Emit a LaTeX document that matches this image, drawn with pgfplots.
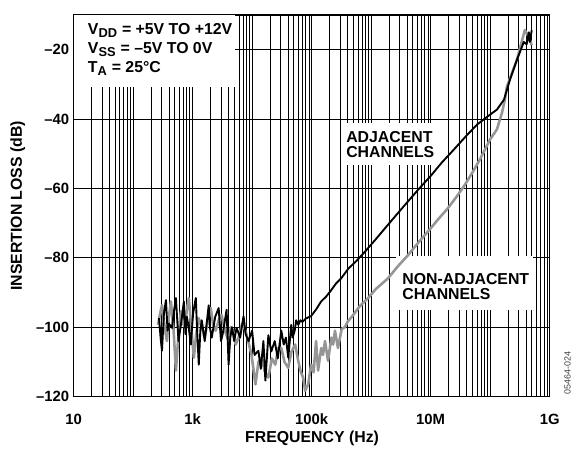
\documentclass[border=0pt]{standalone}
\usepackage{fontspec}
\setmainfont{Liberation Sans}
\usepackage{pgfplots}
\pgfplotsset{compat=1.18}

\definecolor{nonadj}{RGB}{150,150,150}

\pgfplotsset{
  layers/mylayers/.define layer set={axis background,axis grid,annot,main,axis ticks,axis lines,axis tick labels,axis descriptions,axis foreground}{},
}

\pgfplotstableread{
f      db
273    -97.4
290    -103
306    -106.8
330    -96
357    -92.2
380    -101
400    -99
450    -100.2
490    -95
525    -91.6
580    -104
636    -99.3
714    -92.6
760    -102
800    -97
860    -100
935    -105
1020   -96
1133   -91.6
1200   -102
1271   -110.8
1350   -101
1426   -98
1600   -104
1866   -93.7
1950   -100
2099   -103
2400   -97
2743   -94.5
3000   -104
3200   -102
3500   -98
3733   -95
4029   -110.8
4300   -103
4600   -100
5000   -104
5480   -100.2
6300   -103
7177   -96.8
7800   -102
8690   -104
10000  -101
11000  -108
12770  -106.8
14000  -112
15500  -104
16720  -115.4
18760  -102.3
21000  -107
24000  -104
27000  -109
30960  -101
34000  -105
37000  -103
40550  -108.8
45500  -99.3
48000  -103
52000  -101
55000  -98
59540  -99.3
65000  -98
70000  -98.5
80000  -97.5
98100  -96.8
120000 -94.8
144200 -92.6
175000 -91.2
211900 -89.4
260000 -87.3
311000 -86
420000 -83
560000 -81
783000 -78.3
1150000 -75
1690000 -71.6
2700000 -67.5
4090000 -63.9
6300000 -60.2
9910000 -56.5
15500000 -52.5
24900000 -48.7
39000000 -45
60400000 -41.6
90000000 -39.3
130000000 -37.3
171000000 -34.4
215000000 -28.7
281000000 -23
368000000 -17.8
410000000 -18.5
446000000 -15
464000000 -17.8
500000000 -14.4
}\adjtable

\pgfplotstableread{
f      db
263    -99.3
285    -96
306    -93.7
340    -100
371    -104
400    -97
433    -92.6
480    -101
525    -112.5
580    -102
636    -95.4
690    -99
750    -100
800    -95
866    -91.6
950    -100
1050   -108.8
1150   -102
1271   -97.4
1420   -100
1600   -103
1800   -98
2018   -94.5
2200   -99
2445   -101
2750   -98
3078   -96.5
3500   -101
4029   -104
4400   -100
4800   -101
5300   -105
5919   -103
6800   -99
7750   -101
8600   -104
9770   -107.9
11380  -116.5
12800  -110
14350  -108.8
16500  -113
18760  -114.5
21500  -109
24550  -110.8
27500  -106
30960  -106
35000  -110
40550  -111.7
46000  -107
52990  -105
59540  -109.7
66000  -113
72100  -114.5
77850  -118.3
87500  -116.5
98100  -110.8
108000 -113
118900 -104
128500 -112.5
145000 -106
155000 -108
168000 -104
188600 -109.7
215000 -103
230000 -105
246800 -101
277100 -106
320000 -100.5
363100 -100
407400 -98.3
500000 -96.5
640000 -94
879000 -91.7
1200000 -89
1900000 -86
2800000 -82.5
4090000 -79.4
6300000 -75.5
9910000 -71.6
14000000 -68.5
19100000 -65.9
27000000 -62.5
36600000 -59.3
50000000 -55.5
67600000 -51.6
99600000 -45.9
130000000 -43
158000000 -38.2
177000000 -34.4
191000000 -30.7
230000000 -27
281000000 -23
330000000 -18.5
383000000 -14.4
446000000 -16.4
500000000 -18.7
}\nonadjtable

\begin{document}
\begin{tikzpicture}[font=\fontsize{16}{18}\selectfont\bfseries]
\begin{axis}[
  set layers=mylayers,
  at={(0,0)}, anchor=south west,
  scale only axis,
  width=479bp, height=384bp,
  xmode=log,
  xmin=10, xmax=1e9,
  ymin=-120, ymax=-10,
  xtick={10,100,1000,1e4,1e5,1e6,1e7,1e8,1e9},
  xticklabels={10,{},1k,{},100k,{},10M,{},1G},
  ytick={-120,-100,-80,-60,-40,-20},
  yticklabels={–120,–100,–80,–60,–40,–20},
  grid=both,
  major grid style={black, line width=0.75pt},
  minor grid style={black, line width=0.75pt},
  axis line style={black, line width=1.3pt},
  major tick length=0pt, minor tick length=0pt,
  tick label style={font=\fontsize{15}{17}\selectfont\bfseries},
  xticklabel style={yshift=-14bp},
  yticklabel style={xshift=-1bp},
]
\node[on layer=annot, fill=white, anchor=north west, minimum width=162bp, minimum height=72bp, inner sep=0pt] at (rel axis cs:0,1) {};
\node[on layer=annot, fill=white, minimum width=100bp, minimum height=42bp, inner sep=0pt] at (axis cs:2.1e6,-47.3) {};
\node[on layer=annot, fill=white, minimum width=138bp, minimum height=54bp, inner sep=0pt] at (axis cs:3.66e7,-87.2) {};
\node[align=left, anchor=center] at (axis cs:2.1e6,-47.3) {ADJACENT\\[-3bp]CHANNELS};
\node[align=left, anchor=center] at (axis cs:3.9e7,-88.2) {NON-ADJACENT\\[-3bp]CHANNELS};
\addplot[nonadj, line width=2.6pt, line join=round] table[x=f, y=db] {\nonadjtable};
\addplot[black, line width=1.9pt, line join=round] table[x=f, y=db] {\adjtable};
\end{axis}
\node[anchor=base west] at (11bp,364bp) {V\textsubscript{\fontsize{13}{13}\selectfont DD} = +5V TO +12V};
\node[anchor=base west] at (11bp,345bp) {V\textsubscript{\fontsize{13}{13}\selectfont SS} = –5V TO 0V};
\node[anchor=base west] at (11bp,326bp) {T\textsubscript{\fontsize{13}{13}\selectfont A} = 25°C};
\node[rotate=90] at (-56bp,192bp) {INSERTION LOSS (dB)};
\node at (240bp,-42bp) {FREQUENCY (Hz)};
\node[rotate=90, font=\fontsize{9}{10}\selectfont, text=black!75] at (497bp,24bp) {05464-024};
\path (-74bp,-54bp) rectangle (500bp,399bp);
\end{tikzpicture}
\end{document}
